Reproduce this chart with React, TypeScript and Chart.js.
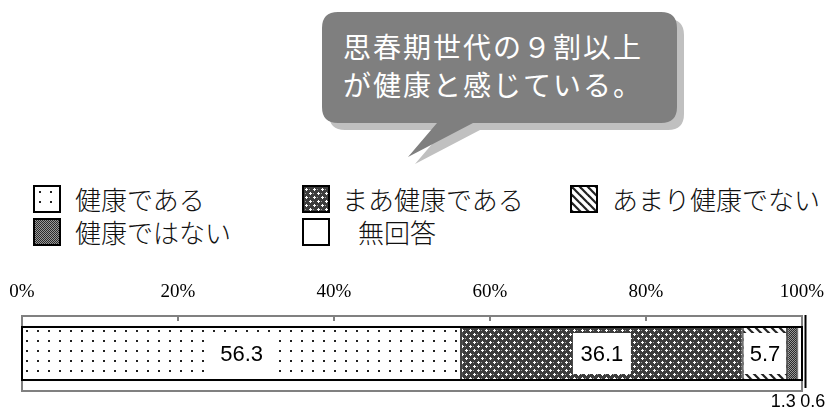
import React, { useEffect, useRef, useState } from 'react';
import { Chart, registerables } from 'chart.js';
Chart.register(...registerables);

const categories = ['健康である', 'まあ健康である', 'あまり健康でない', '健康ではない', '無回答'];
const values = [56.3, 36.1, 5.7, 1.3, 0.6];
const tickLabels = ['0%', '20%', '40%', '60%', '80%', '100%'];
const calloutLines = ['思春期世代の９割以上', 'が健康と感じている。'];

function makeTile(kind: number): HTMLCanvasElement {
  const c = document.createElement('canvas');
  const ctx = c.getContext('2d')!;
  if (kind === 0) {
    c.width = 11; c.height = 10;
    ctx.fillStyle = '#fff'; ctx.fillRect(0, 0, 11, 10);
    ctx.fillStyle = '#222'; ctx.fillRect(4, 4, 2, 2);
  } else if (kind === 1) {
    c.width = 8; c.height = 8;
    ctx.fillStyle = '#3c3c3c'; ctx.fillRect(0, 0, 8, 8);
    ctx.fillStyle = '#fff';
    ctx.fillRect(1, 2, 3, 1); ctx.fillRect(2, 1, 1, 3);
    ctx.fillRect(5, 6, 3, 1); ctx.fillRect(6, 5, 1, 3);
    ctx.fillStyle = '#9a9a9a';
    ctx.fillRect(5, 2, 1, 1); ctx.fillRect(1, 6, 1, 1);
  } else if (kind === 2) {
    c.width = 8; c.height = 8;
    ctx.fillStyle = '#fff'; ctx.fillRect(0, 0, 8, 8);
    ctx.strokeStyle = '#222'; ctx.lineWidth = 2.2;
    for (let k = -8; k <= 8; k += 8) {
      ctx.beginPath(); ctx.moveTo(k - 1, -1); ctx.lineTo(k + 9, 9); ctx.stroke();
    }
  } else if (kind === 3) {
    c.width = 2; c.height = 2;
    ctx.fillStyle = '#2a2a2a'; ctx.fillRect(0, 0, 2, 2);
    ctx.fillStyle = '#999'; ctx.fillRect(0, 0, 1, 1); ctx.fillRect(1, 1, 1, 1);
  } else {
    c.width = 2; c.height = 2;
    ctx.fillStyle = '#fff'; ctx.fillRect(0, 0, 2, 2);
  }
  return c;
}

const boxPlugin = {
  id: 'boxPlugin',
  afterDatasetsDraw(chart: any) {
    const { ctx, chartArea } = chart;
    const xs = chart.scales.x;
    ctx.save();
    ctx.strokeStyle = '#808080';
    ctx.lineWidth = 2;
    ctx.strokeRect(chartArea.left, chartArea.top, chartArea.right - chartArea.left, chartArea.bottom - chartArea.top);
    xs.ticks.forEach((t: any) => {
      const px = xs.getPixelForValue(t.value);
      if (t.value > 0 && t.value < 100) {
        ctx.beginPath(); ctx.moveTo(px, chartArea.top); ctx.lineTo(px, chartArea.top + 5); ctx.stroke();
      }
    });
    const first = chart.getDatasetMeta(0).data[0];
    const last = chart.getDatasetMeta(values.length - 1).data[0];
    const top = first.y - first.height / 2;
    const bottom = first.y + first.height / 2;
    ctx.strokeStyle = '#000';
    ctx.lineWidth = 2;
    ctx.strokeRect(first.base, top, last.x - first.base, bottom - top);
    ctx.beginPath();
    ctx.moveTo(chartArea.right + 3.5, chartArea.top - 1);
    ctx.lineTo(chartArea.right + 3.5, chartArea.bottom - 3);
    ctx.stroke();
    ctx.textAlign = 'center';
    ctx.textBaseline = 'middle';
    values.forEach((v, i) => {
      const bar = chart.getDatasetMeta(i).data[0];
      const cx = (bar.x + bar.base) / 2;
      const w = Math.abs(bar.x - bar.base);
      const txt = v.toFixed(1);
      if (i < 3) {
        ctx.font = '22px "Liberation Sans", Arial, sans-serif';
        const bw = Math.min(58, w - 2);
        ctx.fillStyle = '#fff';
        ctx.fillRect(cx - bw / 2, bar.y - 20.5, bw, 41);
        ctx.fillStyle = '#000';
        ctx.fillText(txt, cx, bar.y + 1);
      } else {
        ctx.font = '18px "Liberation Sans", Arial, sans-serif';
        ctx.fillStyle = '#000';
        const off = i === 3 ? -9 : 13;
        ctx.fillText(txt, cx + off, chartArea.bottom + 11);
      }
    });
    ctx.restore();
  },
};

function Legend({ tiles }: { tiles: string[] }) {
  const pos = [
    { bx: 33, by: 185, tx: 75 },
    { bx: 302, by: 185, tx: 342 },
    { bx: 570, by: 185, tx: 612 },
    { bx: 33, by: 218, tx: 75 },
    { bx: 302, by: 218, tx: 358 },
  ];
  return (
    <>
      {categories.map((n, i) => (
        <React.Fragment key={i}>
          <div
            style={{
              position: 'absolute', left: pos[i].bx, top: pos[i].by, width: 28, height: 28,
              boxSizing: 'border-box', border: '2px solid #000',
              backgroundImage: tiles[i] ? `url(${tiles[i]})` : undefined,
              backgroundColor: '#fff',
            }}
          />
          <div
            style={{
              position: 'absolute', left: pos[i].tx, top: pos[i].by - 3, height: 34, lineHeight: '34px',
              fontSize: 26, fontFamily: '"Noto Sans CJK JP", sans-serif', fontWeight: 300, color: '#111',
              whiteSpace: 'pre',
            }}
          >
            {n}
          </div>
        </React.Fragment>
      ))}
    </>
  );
}

function Callout() {
  const x1 = 322, y1 = 12, x2 = 677, y2 = 123, r = 16;
  const d = `M ${x1 + r} ${y1} H ${x2 - r} Q ${x2} ${y1} ${x2} ${y1 + r} V ${y2 - r} Q ${x2} ${y2} ${x2 - r} ${y2} H 473 L 408 157 L 437 ${y2} H ${x1 + r} Q ${x1} ${y2} ${x1} ${y2 - r} V ${y1 + r} Q ${x1} ${y1} ${x1 + r} ${y1} Z`;
  return (
    <>
      <svg width={833} height={200} style={{ position: 'absolute', left: 0, top: 0 }}>
        <path d={d} fill="#c0c0c0" transform="translate(7,7)" />
        <path d={d} fill="#7f7f7f" />
      </svg>
      {calloutLines.map((l, i) => (
        <div
          key={i}
          style={{
            position: 'absolute', left: 343, top: 29 + i * 38, height: 34, lineHeight: '34px',
            fontSize: 28, letterSpacing: 2, color: '#fff',
            fontFamily: '"Noto Sans CJK JP", sans-serif', whiteSpace: 'pre',
          }}
        >
          {l}
        </div>
      ))}
    </>
  );
}

export default function App() {
  const ref = useRef<HTMLCanvasElement>(null);
  const [tiles, setTiles] = useState<string[]>([]);

  useEffect(() => {
    document.body.style.margin = '0';
    const tileCanvases = [0, 1, 2, 3, 4].map(makeTile);
    setTiles(tileCanvases.map((t, i) => (i === 4 ? '' : t.toDataURL())));
    const canvas = ref.current!;
    const ctx = canvas.getContext('2d')!;
    const patterns = tileCanvases.map((t) => ctx.createPattern(t, 'repeat'));
    const chart = new Chart(canvas, {
      type: 'bar',
      data: {
        labels: [''],
        datasets: categories.map((c, i) => ({
          label: c,
          data: [values[i]],
          backgroundColor: patterns[i] as any,
          borderColor: '#000',
          borderWidth: 1,
          borderSkipped: false,
          barPercentage: 0.707,
          categoryPercentage: 1,
        })),
      },
      options: {
        indexAxis: 'y',
        responsive: false,
        animation: false,
        devicePixelRatio: 1,
        layout: { padding: { left: 22, right: 31, top: 0, bottom: 19 } },
        plugins: { legend: { display: false }, tooltip: { enabled: false } },
        scales: {
          x: {
            stacked: true,
            position: 'top',
            min: 0,
            max: 100,
            grid: { display: false, drawTicks: false },
            border: { display: false },
            ticks: {
              stepSize: 20,
              autoSkip: false,
              maxRotation: 0,
              padding: 13,
              color: '#000',
              font: { family: '"Liberation Serif", serif', size: 19 },
              callback: (_v: any, i: number) => tickLabels[i],
            },
            afterFit: (s: any) => { s.height = 40; s.paddingLeft = 0; s.paddingRight = 0; },
          },
          y: { stacked: true, display: false },
        },
      } as any,
      plugins: [boxPlugin],
    });
    return () => chart.destroy();
  }, []);

  return (
    <div style={{ position: 'relative', width: 833, height: 410, background: '#fff', overflow: 'hidden' }}>
      <Callout />
      <Legend tiles={tiles} />
      <canvas ref={ref} width={833} height={134} style={{ position: 'absolute', left: 0, top: 276, width: 833, height: 134 }} />
    </div>
  );
}
